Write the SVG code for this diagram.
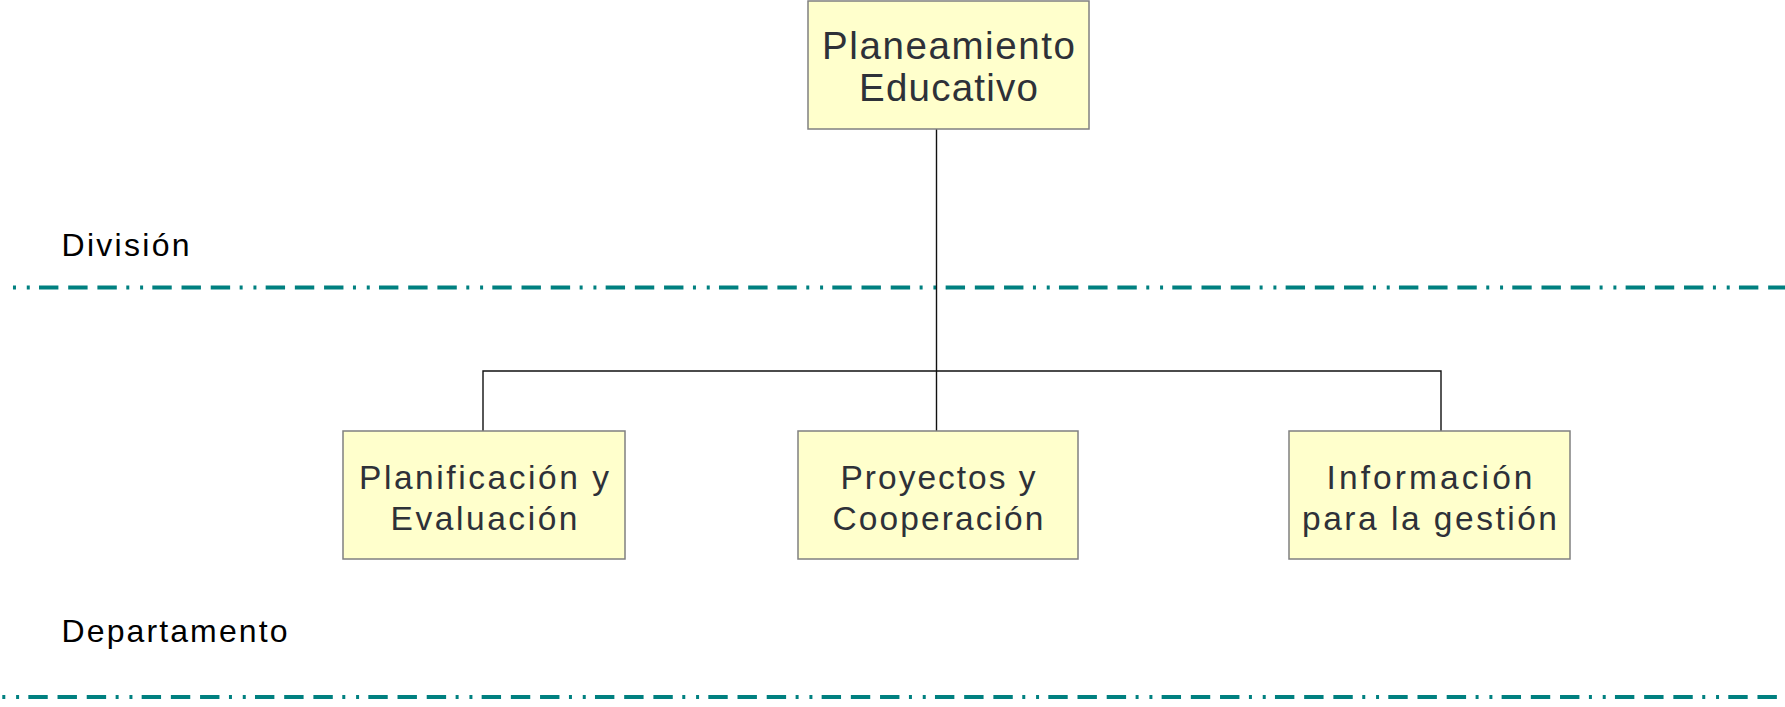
<svg xmlns="http://www.w3.org/2000/svg" width="1785" height="707" viewBox="0 0 1785 707">
<style>
.box{fill:#ffffcc;stroke:#808080;stroke-width:1.5}
.bt{font-family:"Liberation Sans",Arial,sans-serif;font-size:33.5px;fill:#2e3138;text-anchor:middle}
.big{font-size:38.5px}
.lbl{font-family:"Liberation Sans",Arial,sans-serif;font-size:32px;fill:#000}
.sep{stroke:#008080;stroke-width:4;fill:none;stroke-dasharray:19.4 9.8 19.4 9.8 19.4 9.5 3 10.8 3 9.23}
.con{stroke:#111;stroke-width:1.4;fill:none}
</style>
<rect width="1785" height="707" fill="#fff"/>
<g id="separators">
<line class="sep" x1="12" y1="287.5" x2="1785" y2="287.5" stroke-dashoffset="86.33"/>
<line class="sep" x1="0" y1="697" x2="1785" y2="697" stroke-dashoffset="85"/>
</g>
<g id="labels">
<text class="lbl" x="61.5" y="256" textLength="128" lengthAdjust="spacing">División</text>
<text class="lbl" x="61.5" y="641.5" textLength="226" lengthAdjust="spacing">Departamento</text>
</g>
<g id="connectors">
<line class="con" x1="936.5" y1="129" x2="936.5" y2="436"/>
<polyline class="con" points="483,431 483,371 1441,371 1441,431"/>
</g>
<g id="node-planeamiento">
<rect class="box" x="808" y="1" width="281" height="128"/>
<text class="bt big" x="948.5" y="59" textLength="253" lengthAdjust="spacing">Planeamiento</text>
<text class="bt big" x="948.5" y="101" textLength="179" lengthAdjust="spacing">Educativo</text>
</g>
<g id="node-planificacion">
<rect class="box" x="343" y="431" width="282" height="128"/>
<text class="bt" x="484" y="489" textLength="250" lengthAdjust="spacing">Planificación y</text>
<text class="bt" x="484" y="530" textLength="187" lengthAdjust="spacing">Evaluación</text>
</g>
<g id="node-proyectos">
<rect class="box" x="798" y="431" width="280" height="128"/>
<text class="bt" x="938" y="489" textLength="195" lengthAdjust="spacing">Proyectos y</text>
<text class="bt" x="938" y="530" textLength="211" lengthAdjust="spacing">Cooperación</text>
</g>
<g id="node-informacion">
<rect class="box" x="1289" y="431" width="281" height="128"/>
<text class="bt" x="1429.5" y="489" textLength="206" lengthAdjust="spacing">Información</text>
<text class="bt" x="1429.5" y="530" textLength="255" lengthAdjust="spacing">para la gestión</text>
</g>
</svg>
